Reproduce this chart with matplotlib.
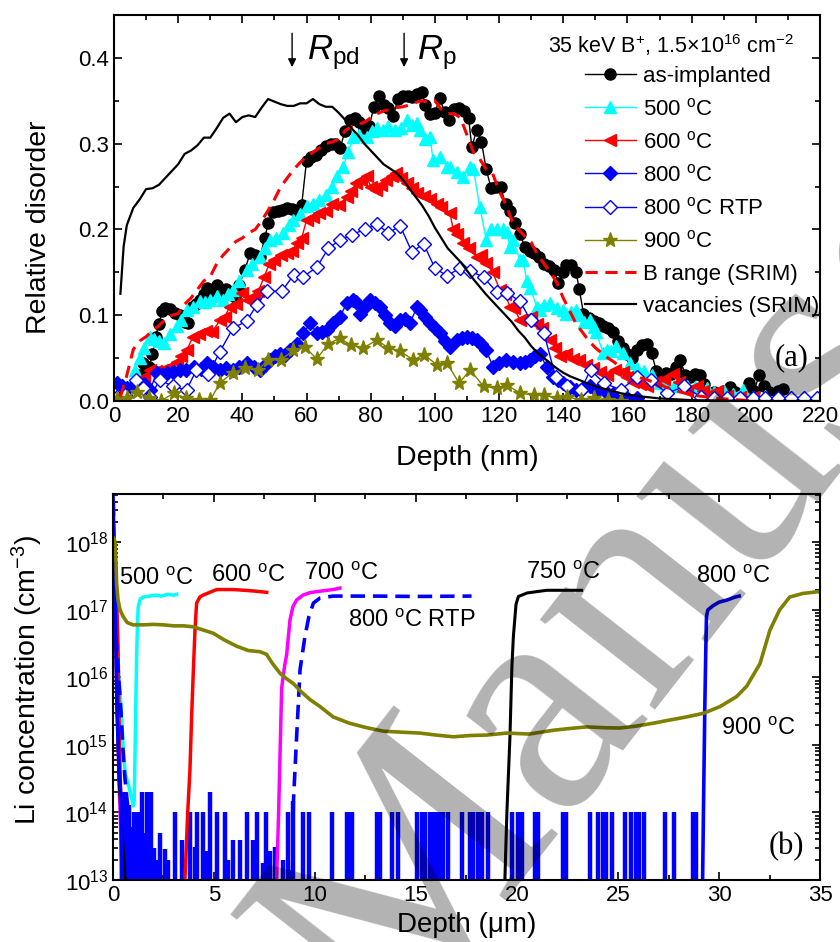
import matplotlib
matplotlib.use('Agg')
import matplotlib.pyplot as plt
from matplotlib.ticker import MultipleLocator, LogLocator, NullFormatter, FormatStrFormatter

plt.rcParams['font.family'] = ['Liberation Sans', 'DejaVu Sans']
plt.rcParams['mathtext.fontset'] = 'custom'
plt.rcParams['mathtext.rm'] = 'Liberation Sans'
plt.rcParams['mathtext.it'] = 'Liberation Sans:italic'
plt.rcParams['mathtext.bf'] = 'Liberation Sans:bold'

# ---------------- panel (a): relative disorder vs depth (nm) ----------------
asimp_x = [8, 9, 10, 11, 12, 13, 14, 15, 16, 17.5, 19, 20.5, 22, 23, 24.2, 25.5, 26.8, 28, 29, 30.5,
           32, 33.5, 35, 36.5, 37.7, 39, 40.8, 42.4, 44, 45.5, 47, 48, 49.6, 51, 52.5, 54, 55.5, 57, 58.5, 60,
           61.5, 63, 64.5, 66, 67.5, 69, 70.5, 72, 73.5, 75, 76.5, 78, 79.5, 81, 82.5, 84, 85.5, 87, 88.5, 90,
           91.5, 93, 94.5, 96, 97, 98.5, 100, 101.5, 103, 104.5, 106, 107.5, 109, 110.5, 111.5, 113, 114.5, 116,
           117.5, 119, 120.5, 122, 123.5, 125, 126.5, 128, 129.5, 131, 132.5, 134, 135.5, 137, 138.5, 140, 141,
           142.5, 144, 145, 146.3, 148, 149.5, 151, 152.5, 154, 155.5, 157, 158.5, 160, 161.5, 163, 164.5, 166,
           167.5, 169, 170.5, 172, 173.5, 175, 176.5, 178, 179.5, 181, 182.5, 184, 185.5, 187, 188.5, 190, 192,
           193.5, 195, 196.5, 198, 199.5, 201, 202.5, 204, 205.5, 207, 208.5]
asimp_y = [0.030, 0.044, 0.040, 0.040, 0.055, 0.075, 0.090, 0.105, 0.108, 0.107, 0.103, 0.100, 0.092, 0.091,
           0.110, 0.113, 0.118, 0.125, 0.132, 0.128, 0.135, 0.128, 0.130, 0.125, 0.121, 0.135, 0.153, 0.172,
           0.170, 0.168, 0.190, 0.207, 0.220, 0.222, 0.223, 0.225, 0.224, 0.222, 0.229, 0.280, 0.285, 0.287,
           0.293, 0.297, 0.300, 0.300, 0.295, 0.315, 0.328, 0.330, 0.325, 0.318, 0.320, 0.343, 0.355, 0.345,
           0.342, 0.332, 0.352, 0.355, 0.356, 0.354, 0.358, 0.360, 0.345, 0.335, 0.336, 0.353, 0.337, 0.327,
           0.340, 0.341, 0.338, 0.330, 0.296, 0.316, 0.302, 0.270, 0.248, 0.250, 0.249, 0.230, 0.222, 0.207,
           0.195, 0.180, 0.175, 0.172, 0.168, 0.160, 0.157, 0.153, 0.138, 0.150, 0.159, 0.158, 0.150, 0.130,
           0.102, 0.097, 0.093, 0.091, 0.088, 0.085, 0.080, 0.070, 0.062, 0.055, 0.050, 0.060, 0.065, 0.066,
           0.056, 0.035, 0.030, 0.033, 0.032, 0.040, 0.048, 0.030, 0.028, 0.031, 0.030, 0.020, 0.009, 0.010,
           0.009, 0.012, 0.016, 0.010, 0.005, 0.008, 0.021, 0.012, 0.030, 0.018, 0.010, 0.008, 0.012, 0.014]

c500_x = [6.5, 8, 9.5, 11.2, 12.5, 14, 15.6, 17.5, 19.6, 21, 22.6, 24.5, 26.7, 28.5, 30, 32, 34, 35.5, 37, 39,
          41.4, 43, 45.5, 47, 48.6, 50.5, 52.7, 54.5, 55.9, 58, 60, 62, 64, 66, 68, 69.5, 71.4, 73, 74.5, 76.5,
          78.7, 80.5, 82, 83.7, 85.5, 87.7, 89.5, 91.2, 93, 94.4, 95.3, 97, 98.5, 99.4, 101.6, 103.7, 104.7,
          106.8, 108.8, 110.8, 112, 114, 116, 117.5, 119.3, 121.2, 122.4, 123.4, 124.4, 126.5, 127.5, 128.6,
          129.7, 131.7, 132.7, 134, 135.9, 138, 140, 141, 142.5, 144, 145, 146.5, 148.2, 149.5, 150.3, 152.4,
          153.5, 155, 156.5, 158.6, 160.8, 163, 165, 167.5, 170, 172, 174.5, 176.5, 178.5, 181, 184.7, 187,
          190, 193, 196, 199, 203, 207, 211, 215, 219]
c500_y = [0.036, 0.050, 0.062, 0.075, 0.072, 0.070, 0.068, 0.078, 0.087, 0.095, 0.106, 0.110, 0.116, 0.115,
          0.118, 0.122, 0.118, 0.125, 0.129, 0.140, 0.153, 0.160, 0.168, 0.178, 0.188, 0.190, 0.196, 0.205,
          0.211, 0.218, 0.227, 0.230, 0.234, 0.240, 0.250, 0.262, 0.273, 0.290, 0.308, 0.310, 0.308, 0.315,
          0.318, 0.316, 0.320, 0.316, 0.318, 0.328, 0.322, 0.324, 0.316, 0.305, 0.308, 0.281, 0.285, 0.273,
          0.273, 0.267, 0.261, 0.273, 0.270, 0.226, 0.188, 0.200, 0.200, 0.200, 0.197, 0.180, 0.188, 0.164,
          0.164, 0.140, 0.132, 0.110, 0.106, 0.112, 0.114, 0.108, 0.106, 0.102, 0.104, 0.106, 0.100, 0.092,
          0.095, 0.086, 0.080, 0.056, 0.060, 0.058, 0.064, 0.056, 0.044, 0.038, 0.035, 0.030, 0.021, 0.018,
          0.017, 0.020, 0.018, 0.016, 0.015, 0.010, 0.012, 0.008, 0.013, 0.005, 0.006, 0.004, 0.005, 0.004,
          0.004]

c600_x = [8, 9.5, 11.2, 13, 15, 17, 19.5, 21, 22.8, 24.6, 26.5, 28.8, 30.5, 33, 34.5, 36.1, 38, 40, 41.8,
          43.7, 45, 46.8, 48.4, 50, 52, 54, 55.5, 57, 58.5, 60, 62, 64, 66, 68, 70, 72.5, 74, 75.5, 77, 78.7,
          80, 81.8, 83.3, 84.9, 86.5, 88, 89.5, 91.2, 92.8, 94.4, 96.5, 98.5, 100.6, 102, 104.7, 105.7, 107,
          108.8, 110.5, 113, 114.5, 116, 118, 120.3, 121.8, 123.4, 124.8, 126.5, 128, 130, 131.7, 133.5,
          135.9, 137.5, 139, 141, 143, 145, 147, 149.4, 151.5, 153.5, 156, 158.6, 160, 161.7, 164, 166, 168.5,
          171.3, 174.3, 176, 178.5, 181.6, 183.5, 185.7, 187.8, 191, 195, 199]
c600_y = [0.020, 0.028, 0.036, 0.035, 0.036, 0.040, 0.046, 0.052, 0.060, 0.075, 0.078, 0.082, 0.080, 0.094,
          0.098, 0.110, 0.113, 0.126, 0.118, 0.122, 0.128, 0.145, 0.160, 0.164, 0.170, 0.172, 0.175, 0.184,
          0.190, 0.211, 0.215, 0.219, 0.222, 0.230, 0.228, 0.238, 0.245, 0.254, 0.258, 0.262, 0.250, 0.246,
          0.252, 0.258, 0.262, 0.266, 0.260, 0.254, 0.248, 0.242, 0.239, 0.236, 0.230, 0.226, 0.219, 0.200,
          0.195, 0.184, 0.178, 0.168, 0.170, 0.161, 0.150, 0.129, 0.125, 0.110, 0.108, 0.094, 0.096, 0.098,
          0.090, 0.085, 0.071, 0.062, 0.052, 0.055, 0.049, 0.048, 0.042, 0.038, 0.034, 0.030, 0.036, 0.034,
          0.028, 0.022, 0.020, 0.018, 0.022, 0.026, 0.032, 0.022, 0.012, 0.017, 0.012, 0.008, 0.012, 0.006,
          0.005, 0.005]

c800_x = [0.8, 2.5, 4, 6, 8, 9.5, 11.2, 13.3, 15, 16.4, 18.5, 20.5, 22.5, 25, 27, 29, 31, 33, 35, 37, 39,
          41.4, 43.5, 45.5, 47, 48.6, 50.2, 51.8, 53.3, 54.9, 57, 59, 61.2, 63.2, 64.8, 66.3, 68.4, 70.4, 72.5,
          74.5, 75.5, 76.7, 78.2, 79.8, 81.3, 83, 84.5, 86, 87.5, 89.1, 90.7, 92.3, 94.4, 95.4, 97, 98.5, 100,
          101.6, 103.2, 104.7, 106.8, 108.3, 109.9, 111.5, 113, 114.5, 116, 118.1, 120, 122.3, 124.4, 126.5,
          128, 129.6, 131.2, 132.7, 134.8, 136.9, 138.5, 140, 142, 144, 146, 148.3, 150.5, 153.5, 155.5, 157.6,
          160, 163]
c800_y = [0.021, 0.018, 0.015, 0.018, 0.016, 0.020, 0.0125, 0.033, 0.030, 0.033, 0.034, 0.036, 0.036, 0.040,
          0.037, 0.044, 0.040, 0.036, 0.038, 0.036, 0.040, 0.044, 0.040, 0.036, 0.042, 0.048, 0.052, 0.055,
          0.054, 0.059, 0.067, 0.079, 0.091, 0.079, 0.080, 0.083, 0.091, 0.098, 0.114, 0.118, 0.115, 0.102,
          0.110, 0.118, 0.114, 0.110, 0.100, 0.091, 0.088, 0.094, 0.096, 0.091, 0.110, 0.106, 0.098, 0.091,
          0.085, 0.079, 0.070, 0.063, 0.071, 0.073, 0.075, 0.074, 0.071, 0.066, 0.059, 0.040, 0.044, 0.048,
          0.046, 0.044, 0.046, 0.048, 0.052, 0.055, 0.040, 0.028, 0.025, 0.021, 0.016, 0.013, 0.015, 0.017,
          0.012, 0.009, 0.008, 0.005, 0.004, 0.003]

rtp_x = [1, 3.5, 7, 9, 11.2, 14.3, 18.4, 22.6, 25.7, 29.4, 33, 37.1, 41.3, 44.5, 47.6, 52.3, 56, 59, 63.2,
         66.8, 70.5, 74.1, 78.2, 81.9, 85.5, 89.2, 92.8, 96.5, 100, 103.7, 107.9, 111, 115.2, 119.3, 122.5,
         126.6, 129.8, 134, 137.6, 141.3, 145.4, 148.5, 152.7, 157.9, 163, 167.2, 172.4, 177.6, 182.8, 187,
         191, 195, 199, 203, 207, 211, 215, 219]
rtp_y = [0.005, 0.007, 0.0245, 0.015, 0.005, 0.0245, 0.017, 0.013, 0.036, 0.031, 0.0575, 0.085, 0.093, 0.112,
         0.128, 0.128, 0.147, 0.145, 0.156, 0.178, 0.188, 0.194, 0.200, 0.206, 0.196, 0.204, 0.174, 0.183,
         0.155, 0.146, 0.155, 0.152, 0.144, 0.127, 0.126, 0.116, 0.094, 0.079, 0.028, 0.017, 0.013, 0.036,
         0.021, 0.013, 0.028, 0.024, 0.009, 0.017, 0.005, 0.003, 0.003, 0.003, 0.003, 0.003, 0.003, 0.003,
         0.003, 0.003]

c900_x = [1, 4, 7.1, 11, 14.5, 18.6, 22.5, 26.4, 30, 33, 37, 40.7, 44.9, 48, 52, 55.9, 59.5, 63.2, 66.8, 70.4,
          74, 77.7, 81.9, 85.5, 89.1, 93.3, 96.6, 100.7, 103.8, 107.5, 111, 115.2, 119.3, 122.4, 126.6, 130.8,
          134, 138, 141.3, 145.4, 149.6, 154, 158]
c900_y = [0.002, 0.004, 0.011, 0.004, 0.000, 0.009, 0.003, 0.001, 0.001, 0.021, 0.033, 0.038, 0.036, 0.048,
          0.048, 0.059, 0.063, 0.049, 0.067, 0.073, 0.065, 0.062, 0.071, 0.062, 0.058, 0.048, 0.054, 0.042,
          0.044, 0.021, 0.036, 0.017, 0.015, 0.019, 0.009, 0.007, 0.007, 0.003, 0.005, 0.001, 0.003, 0.001,
          0.000]

brange_x = [2, 4, 6, 8, 10, 12, 14, 16, 18, 20, 22, 24, 26, 28, 30, 32, 34, 36, 38, 40, 42, 44, 46, 48, 50,
            52, 54, 56, 58, 60, 62, 64, 66, 68, 70, 72, 74, 76, 78, 80, 82, 84, 86, 88, 90, 92, 94, 96, 98, 100,
            102, 104, 106, 108, 110, 112, 114, 116, 118, 120, 122, 124, 126, 128, 130, 132, 134, 136, 138, 140,
            142, 144, 146, 148, 150, 152, 154, 156, 158, 160, 162, 164, 166, 168, 170, 172, 174, 176, 178, 180,
            184, 188, 192, 196, 200]
brange_y = [0.005, 0.030, 0.060, 0.070, 0.075, 0.082, 0.088, 0.095, 0.100, 0.102, 0.113, 0.120, 0.130, 0.140,
            0.145, 0.160, 0.170, 0.178, 0.186, 0.190, 0.196, 0.200, 0.210, 0.222, 0.235, 0.250, 0.260, 0.270,
            0.278, 0.285, 0.290, 0.295, 0.300, 0.302, 0.305, 0.315, 0.320, 0.322, 0.325, 0.330, 0.335, 0.338,
            0.340, 0.342, 0.343, 0.345, 0.348, 0.350, 0.348, 0.350, 0.340, 0.335, 0.335, 0.330, 0.310, 0.290,
            0.282, 0.270, 0.265, 0.245, 0.230, 0.210, 0.200, 0.192, 0.185, 0.170, 0.160, 0.150, 0.138, 0.120,
            0.105, 0.090, 0.080, 0.070, 0.062, 0.056, 0.050, 0.045, 0.038, 0.034, 0.030, 0.027, 0.025, 0.022,
            0.020, 0.016, 0.014, 0.011, 0.009, 0.007, 0.005, 0.003, 0.002, 0.001, 0.000]

vac_x = [2, 3, 4, 5, 6, 8, 10, 12, 14, 16, 18, 20, 22, 24, 26, 28, 30, 32, 34, 36, 38, 40, 42, 44, 46, 48,
         50, 52, 54, 56, 58, 60, 62, 64, 66, 68, 70, 72, 74, 76, 78, 80, 82, 84, 86, 88, 90, 92, 94, 96, 98,
         100, 102, 104, 106, 108, 110, 112, 114, 116, 118, 120, 122, 124, 126, 128, 130, 132, 134, 136, 138,
         140, 142, 144, 146, 148, 150, 152, 155, 158, 161, 165, 170, 175, 180, 190, 200, 210, 220]
vac_y = [0.125, 0.180, 0.205, 0.215, 0.225, 0.235, 0.247, 0.248, 0.252, 0.260, 0.268, 0.276, 0.288, 0.292,
         0.298, 0.307, 0.307, 0.318, 0.330, 0.335, 0.325, 0.331, 0.333, 0.331, 0.342, 0.352, 0.349, 0.346,
         0.344, 0.344, 0.347, 0.347, 0.352, 0.346, 0.343, 0.343, 0.336, 0.328, 0.318, 0.310, 0.300, 0.292,
         0.284, 0.276, 0.271, 0.266, 0.258, 0.248, 0.238, 0.228, 0.216, 0.202, 0.190, 0.178, 0.170, 0.162,
         0.152, 0.142, 0.133, 0.124, 0.116, 0.108, 0.100, 0.092, 0.082, 0.074, 0.064, 0.056, 0.050, 0.044,
         0.038, 0.033, 0.029, 0.026, 0.023, 0.020, 0.017, 0.015, 0.012, 0.009, 0.007, 0.005, 0.003, 0.002,
         0.001, 0.0005, 0.0, 0.0, 0.0]

# ---------------- panel (b): Li concentration vs depth (um) ----------------
li500_x = [0.02, 0.1, 0.2, 0.35, 0.5, 0.6, 0.7, 0.84, 0.95, 1.0, 1.05, 1.09, 1.13, 1.17, 1.21, 1.25, 1.35,
           1.5, 1.8, 2.1, 2.4, 2.7, 3.0, 3.15]
li500_y = [5e17, 1e17, 2e16, 6.5e15, 1e15, 3.8e14, 3e14, 2.1e14, 1.5e14, 1.25e14, 1.5e14, 6.8e14, 4e15, 2e16,
           6e16, 1.1e17, 1.45e17, 1.55e17, 1.6e17, 1.65e17, 1.6e17, 1.7e17, 1.65e17, 1.7e17]

li600_x = [0.02, 0.1, 0.18, 0.25, 0.32, 0.4, 0.47, 2.0, 3.56, 3.7, 3.81, 3.9, 3.98, 4.06, 4.14, 4.3, 4.47,
           5.13, 5.96, 6.5, 7.0, 7.61]
li600_y = [8e17, 3e17, 1.6e17, 3e16, 1e15, 1e14, 1e13, 1e12, 1e13, 1e14, 4.3e14, 3e15, 1.3e16, 5e16, 1.26e17,
           1.55e17, 1.66e17, 2e17, 2e17, 1.95e17, 1.9e17, 1.82e17]

li700_x = [0.02, 0.1, 0.2, 0.3, 0.43, 0.5, 4.0, 8.1, 8.2, 8.35, 8.5, 8.6, 8.76, 8.9, 9.09, 9.4, 9.75, 10.3,
           10.9, 11.23]
li700_y = [1e18, 1e17, 5e15, 3e14, 2e13, 1e12, 1e12, 1e13, 1e14, 7e15, 1.5e16, 2.2e16, 7e16, 1.1e17, 1.4e17,
           1.65e17, 1.8e17, 1.9e17, 2e17, 2.1e17]

li750_x = [0.02, 0.1, 0.2, 0.3, 0.4, 0.5, 0.6, 0.7, 10.0, 19.4, 19.5, 19.65, 19.75, 19.82, 19.95, 20.07,
           20.5, 21.47, 22.3, 23.2]
li750_y = [2e18, 1e17, 5e15, 3e14, 1e14, 3e13, 1e13, 1e12, 1e12, 1e13, 1e14, 1.3e15, 1.5e16, 4e16, 1.2e17,
           1.58e17, 1.78e17, 1.95e17, 1.95e17, 1.95e17]

lirtp_x = [0.02, 0.05, 0.1, 0.2, 0.3, 0.4, 0.5, 0.6, 0.7, 0.8, 0.9, 5.0, 8.85, 8.93, 9.09, 9.26, 9.5, 9.7,
           9.92, 10.25, 10.9, 11.55, 13.0, 15.0, 17.75]
lirtp_y = [4e18, 3e17, 6e16, 2.5e16, 8e15, 3e15, 8e14, 3e14, 1.5e14, 8e13, 1e12, 1e12, 1e12, 1.4e14, 1.3e15,
           1.3e16, 4e16, 8e16, 1.26e17, 1.5e17, 1.6e17, 1.6e17, 1.6e17, 1.58e17, 1.6e17]

li800_x = [0.0, 0.05, 0.1, 0.15, 0.2, 0.3, 0.4, 0.45, 15.0, 29.15, 29.2, 29.25, 29.3, 29.35, 29.38, 29.45,
           29.7, 30.0, 30.4, 30.8, 31.0]
li800_y = [5e18, 1e18, 2e17, 3e16, 3e15, 5e14, 1.5e14, 1e12, 1e12, 1e12, 2e13, 3e14, 4e15, 3e16, 8e16, 1e17,
           1.15e17, 1.3e17, 1.4e17, 1.55e17, 1.6e17]

# 800 C background counts: depth (um) and level of each spike
spike_x = [0.45, 0.59, 0.7, 0.8, 0.95, 1.05, 1.25, 1.42, 1.55, 1.67, 1.87, 2.05, 2.2, 2.33, 2.57, 2.74,
           3.07, 3.4, 3.81, 4.06, 4.17, 4.44, 4.64, 4.8, 5.13, 5.54, 5.71, 5.96, 6.29, 6.62, 6.95, 7.11, 7.44,
           7.57, 7.77, 8.02, 8.43, 8.68, 8.76, 8.9, 9.39, 9.72, 10.82, 11.57, 11.7, 11.82, 13.05, 13.22, 13.8,
           14.13, 15.03, 15.31, 15.45, 15.7, 15.85, 15.97, 16.19, 16.32, 16.6, 17.29, 17.67, 17.84, 18.08,
           18.28, 18.55, 19.74, 20.03, 20.23, 20.89, 21.05, 22.29, 22.42, 23.6, 24.03, 24.27, 24.4, 24.69,
           25.35, 25.63, 25.89, 26.04, 26.29, 27.33, 27.79, 28.73, 28.86]
spike_h = [2e14, 2e14, 1e14, 1.3e14, 6e13, 1e14, 1e14, 2e14, 5e13, 2e14, 2e14, 3e13, 2e13, 4.9e13, 2.9e13,
           2e13, 1e14, 3.9e13, 1e14, 3.1e13, 1e14, 1e14, 2.7e13, 2e14, 1e14, 1e14, 2e13, 3.9e13, 3.9e13, 1e14,
           3.9e13, 1e14, 1.8e13, 1e14, 2.7e13, 3.1e13, 2e13, 1e14, 1.4e13, 1.5e14, 1e14, 1e14, 1e14, 1e14,
           1e14, 1e14, 1e14, 1e14, 1e14, 1e14, 1e14, 1e14, 1e14, 1e14, 1e14, 1e14, 1e14, 1e14, 1e14, 1e14,
           1e14, 1e14, 1e14, 1e14, 1e14, 1e14, 1e14, 1e14, 1e14, 1e14, 1e14, 1e14, 1e14, 1e14, 1e14, 1e14,
           1e14, 1e14, 1e14, 1e14, 1e14, 1e14, 1e14, 1e14, 1e14, 1e14]

li900_x = [0.0, 0.05, 0.1, 0.15, 0.18, 0.25, 0.35, 0.5, 0.7, 1.0, 1.5, 2.0, 2.5, 3.0, 3.5, 3.98, 4.5, 4.97,
           5.5, 6.12, 6.7, 7.28, 7.6, 7.9, 8.27, 8.6, 8.93, 9.3, 9.75, 10.25, 10.9, 11.7, 12.56, 13.38, 14.2,
           15.18, 16.0, 16.85, 17.7, 18.5, 19.5, 20.6, 21.8, 22.6, 23.45, 24.3, 25.1, 25.9, 26.75, 27.6, 28.4,
           29.24, 30.05, 30.87, 31.37, 32.03, 32.52, 33.0, 33.5, 34.15, 34.84, 35.0]
li900_y = [1.2e18, 1.15e18, 1e18, 5e17, 2.5e17, 1.4e17, 1e17, 8e16, 6.5e16, 6e16, 6e16, 6.1e16, 6e16, 5.8e16,
           5.8e16, 5.6e16, 5e16, 4.5e16, 3.6e16, 2.9e16, 2.5e16, 2.4e16, 2.2e16, 1.6e16, 1.15e16, 9.5e15,
           8.1e15, 6.2e15, 4.7e15, 3.7e15, 2.6e15, 2.1e15, 1.8e15, 1.6e15, 1.55e15, 1.5e15, 1.4e15, 1.32e15,
           1.38e15, 1.4e15, 1.5e15, 1.45e15, 1.65e15, 1.75e15, 1.85e15, 1.8e15, 1.78e15, 1.9e15, 2.1e15,
           2.35e15, 2.6e15, 2.95e15, 3.7e15, 5.2e15, 7.4e15, 1.6e16, 5e16, 1e17, 1.55e17, 1.75e17, 1.85e17,
           1.85e17]

deg = r'$^{\mathrm{o}}$C'

fig = plt.figure(figsize=(8.4, 9.42), dpi=100)
ax1 = fig.add_axes([0.1357, 0.5743, 0.8405, 0.4098])
ax2 = fig.add_axes([0.1345, 0.0658, 0.8417, 0.4098])

# ---- panel (a)
ax1.plot(asimp_x, asimp_y, color='black', lw=1, marker='o', ms=8, label='as-implanted')
ax1.plot(c500_x, c500_y, color='cyan', lw=1, marker='^', ms=9, label='500 ' + deg)
ax1.plot(c600_x, c600_y, color='red', lw=1, marker='<', ms=9, label='600 ' + deg)
ax1.plot(c800_x, c800_y, color='blue', lw=1, marker='D', ms=7.5, label='800 ' + deg)
ax1.plot(rtp_x, rtp_y, color='blue', lw=1, marker='D', ms=7, mfc='white', mec='blue', mew=1,
         label='800 ' + deg + ' RTP')
ax1.plot(c900_x, c900_y, color='#808000', lw=1, marker='*', ms=11, label='900 ' + deg)
ax1.plot(brange_x, brange_y, color='red', lw=2.2, ls=(0, (4, 2.5)), label='B range (SRIM)')
ax1.plot(vac_x, vac_y, color='black', lw=1.6, label='vacancies (SRIM)')

ax1.set_xlim(0, 220)
ax1.set_ylim(0, 0.45)
ax1.xaxis.set_major_locator(MultipleLocator(20))
ax1.xaxis.set_minor_locator(MultipleLocator(10))
ax1.yaxis.set_major_locator(MultipleLocator(0.1))
ax1.yaxis.set_minor_locator(MultipleLocator(0.05))
ax1.yaxis.set_major_formatter(FormatStrFormatter('%.1f'))
ax1.set_xlabel('Depth (nm)', fontsize=20.5)
ax1.set_ylabel('Relative disorder', fontsize=20.5)
ax1.xaxis.set_label_coords(0.5, -0.115)
ax1.yaxis.set_label_coords(-0.088, 0.45)

leg = ax1.legend(loc='upper left', bbox_to_anchor=(0.667, 0.868), frameon=False, fontsize=16,
                 labelspacing=0.5, handlelength=2.3, handletextpad=0.3, borderpad=0, borderaxespad=0)
ax1.text(135.2, 0.415, r'35 keV B$^{+}$, 1.5$\times$10$^{16}$ cm$^{-2}$', fontsize=15.5, va='center')

ax1.annotate('', xy=(55.5, 0.386), xytext=(55.5, 0.432),
             arrowprops=dict(arrowstyle='-|>', color='black', lw=1, mutation_scale=12))
ax1.annotate('', xy=(90.4, 0.386), xytext=(90.4, 0.432),
             arrowprops=dict(arrowstyle='-|>', color='black', lw=1, mutation_scale=12))
ax1.text(60.1, 0.398, r'$R_{\mathrm{pd}}$', fontsize=25)
ax1.text(94.4, 0.398, r'$R_{\mathrm{p}}$', fontsize=25)
ax1.text(216.5, 0.05, '(a)', fontsize=22, family='Liberation Serif', ha='right', va='center')

# ---- panel (b)
ax2.vlines(spike_x, 1e12, spike_h, colors='blue', lw=3.2)
ax2.plot(li500_x, li500_y, color='cyan', lw=2.5)
ax2.plot(li600_x, li600_y, color='red', lw=2.5)
ax2.plot(li700_x, li700_y, color='magenta', lw=2.5)
ax2.plot(lirtp_x, lirtp_y, color='blue', lw=2.6, ls=(0, (4, 2.2)))
ax2.plot(li750_x, li750_y, color='black', lw=2.2)
ax2.plot(li800_x, li800_y, color='blue', lw=2.6)
ax2.plot(li900_x, li900_y, color='#808000', lw=2.6)

ax2.set_yscale('log')
ax2.set_xlim(0, 35)
ax2.set_ylim(1e13, 5.2e18)
ax2.xaxis.set_major_locator(MultipleLocator(5))
ax2.xaxis.set_minor_locator(MultipleLocator(2.5))
ax2.yaxis.set_major_locator(LogLocator(base=10, numticks=10))
ax2.yaxis.set_minor_locator(LogLocator(base=10, subs=[2, 3, 4, 5, 6, 7, 8, 9], numticks=10))
ax2.yaxis.set_minor_formatter(NullFormatter())
ax2.set_xlabel('Depth (μm)', fontsize=20)
ax2.set_ylabel(r'Li concentration (cm$^{-3}$)', fontsize=20.5)
ax2.xaxis.set_label_coords(0.5, -0.082)
ax2.yaxis.set_label_coords(-0.096, 0.518)

ax2.text(0.3, 10 ** 17.37, '500 ' + deg, fontsize=17)
ax2.text(4.85, 10 ** 17.42, '600 ' + deg, fontsize=17)
ax2.text(9.45, 10 ** 17.44, '700 ' + deg, fontsize=17)
ax2.text(11.63, 10 ** 16.75, '800 ' + deg + ' RTP', fontsize=17)
ax2.text(20.45, 10 ** 17.45, '750 ' + deg, fontsize=17)
ax2.text(28.86, 10 ** 17.4, '800 ' + deg, fontsize=17)
ax2.text(30.1, 10 ** 15.15, '900 ' + deg, fontsize=17)
ax2.text(34.2, 10 ** 13.5, '(b)', fontsize=22, family='Liberation Serif', ha='right', va='center')

for ax in (ax1, ax2):
    ax.tick_params(which='both', direction='in', top=True, right=True, labelsize=16, width=1.2)
    ax.tick_params(which='major', length=6)
    ax.tick_params(which='minor', length=3.5)
    for s in ax.spines.values():
        s.set_linewidth(1.5)

# journal watermark
fig.text(0.459, -0.107, 'Manuscript', fontsize=230, family='Liberation Serif', color='black', alpha=0.3,
         rotation=52, rotation_mode='anchor', ha='left', va='baseline', zorder=20)

fig.savefig('out.png', dpi=100)
